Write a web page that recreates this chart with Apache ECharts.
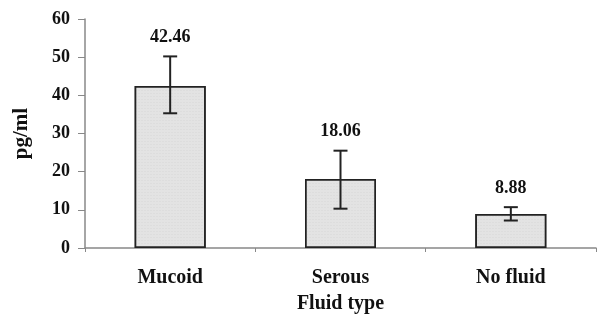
<!DOCTYPE html>
<html>
<head>
<meta charset="utf-8">
<script src="https://cdn.jsdelivr.net/npm/echarts@6/dist/echarts.min.js"></script>
<style>
  html, body { margin: 0; padding: 0; background: #fff; }
  #chart { width: 598px; height: 320px; }
</style>
</head>
<body>
<div id="chart"></div>
<script>
// 数据
const categories = ["Mucoid", "Serous", "No fluid"];
const means = [42.46, 18.06, 8.88];
const errLow = [35.3, 10.3, 7.2];
const errHigh = [50.2, 25.5, 10.7];
const yTicks = [0, 10, 20, 30, 40, 50, 60];

const FONT = "'Liberation Serif', 'DejaVu Serif', serif";

let chart = echarts.init(document.getElementById("chart"));

let option = {
  animation: false,
  grid: {
    left: 85,
    right: 2,
    top: 19,
    bottom: 72,
  },
  xAxis: {
    type: "category",
    data: categories,
    name: "Fluid type",
    nameLocation: "middle",
    nameGap: 46,
    nameTextStyle: {
      fontFamily: FONT,
      fontWeight: "bold",
      fontSize: 20,
      color: "#111",
    },
    axisLine: { lineStyle: { color: "#888", width: 1.5 } },
    axisTick: { show: true, length: 4, lineStyle: { color: "#888" } },
    axisLabel: {
      margin: 20,
      fontFamily: FONT,
      fontWeight: "bold",
      fontSize: 20,
      color: "#111",
    },
  },
  yAxis: {
    type: "value",
    min: yTicks[0],
    max: yTicks[yTicks.length - 1],
    interval: 10,
    name: "pg/ml",
    nameLocation: "middle",
    nameGap: 53,
    nameRotate: 90,
    nameTextStyle: {
      fontFamily: FONT,
      fontWeight: "bold",
      fontSize: 21,
      color: "#111",
    },
    axisLine: { show: true, lineStyle: { color: "#888", width: 1.5 } },
    axisTick: { show: true, length: 7, lineStyle: { color: "#888" } },
    splitLine: { show: false },
    axisLabel: {
      margin: 15,
      fontFamily: FONT,
      fontWeight: "bold",
      fontSize: 18,
      color: "#111",
    },
  },
  series: [
    {
      type: "bar",
      data: means,
      barWidth: 71,
      itemStyle: {
        color: "#e3e3e3",
        borderColor: "#222",
        borderWidth: 1.5,
        decal: {
          symbol: "rect",
          symbolSize: 0.5,
          dashArrayX: [2, 1],
          dashArrayY: [1, 2],
          color: "rgba(160,160,160,0.35)",
          rotation: 0,
        },
      },
    },
    {
      // 误差线 + 数值标签
      type: "custom",
      data: means.map((m, i) => [i, errLow[i], errHigh[i], m]),
      z: 10,
      renderItem: (params, api) => {
        const lo = api.coord([api.value(0), api.value(1)]);
        const hi = api.coord([api.value(0), api.value(2)]);
        const cap = 7;
        const style = { stroke: "#222", lineWidth: 2 };
        return {
          type: "group",
          children: [
            { type: "line", shape: { x1: hi[0], y1: hi[1], x2: lo[0], y2: lo[1] }, style },
            { type: "line", shape: { x1: hi[0] - cap, y1: hi[1], x2: hi[0] + cap, y2: hi[1] }, style },
            { type: "line", shape: { x1: lo[0] - cap, y1: lo[1], x2: lo[0] + cap, y2: lo[1] }, style },
            {
              type: "text",
              x: hi[0],
              y: hi[1] - 19,
              style: {
                text: api.value(3).toFixed(2),
                fill: "#111",
                font: "bold 18px " + FONT,
                align: "center",
                verticalAlign: "middle",
              },
            },
          ],
        };
      },
    },
  ],
};
chart.setOption(option);
</script>
</body>
</html>
